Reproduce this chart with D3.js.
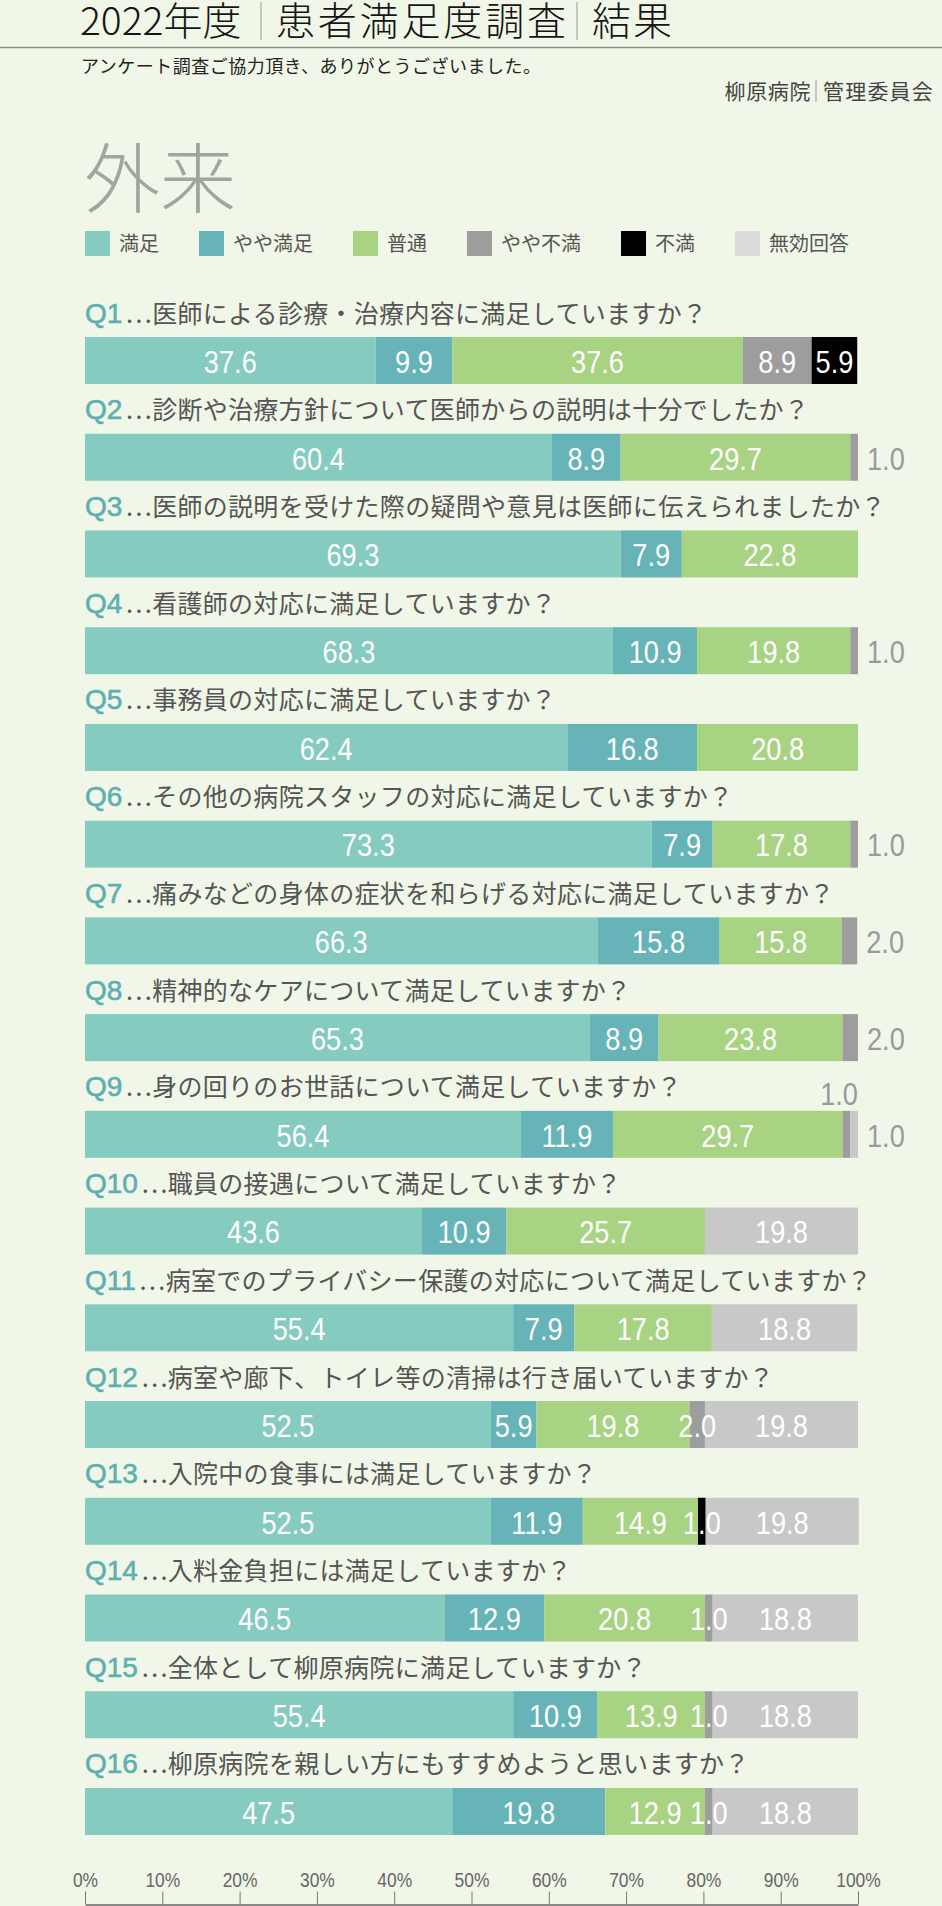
<!DOCTYPE html>
<html><head><meta charset="utf-8">
<script src="https://cdn.jsdelivr.net/npm/d3@7"></script>
<style>
html,body{margin:0;padding:0;background:#f1f7e8;}
svg{display:block;}
</style></head><body>
<svg id="chart" width="942" height="1906"></svg>
<script>
// ---------- data ----------
const categories = ["満足","やや満足","普通","やや不満","不満","無効回答"];
const questionIds = ["Q1","Q2","Q3","Q4","Q5","Q6","Q7","Q8","Q9","Q10","Q11","Q12","Q13","Q14","Q15","Q16"];
const questionTexts = [
  "医師による診療・治療内容に満足していますか？",
  "診断や治療方針について医師からの説明は十分でしたか？",
  "医師の説明を受けた際の疑問や意見は医師に伝えられましたか？",
  "看護師の対応に満足していますか？",
  "事務員の対応に満足していますか？",
  "その他の病院スタッフの対応に満足していますか？",
  "痛みなどの身体の症状を和らげる対応に満足していますか？",
  "精神的なケアについて満足していますか？",
  "身の回りのお世話について満足していますか？",
  "職員の接遇について満足していますか？",
  "病室でのプライバシー保護の対応について満足していますか？",
  "病室や廊下、トイレ等の清掃は行き届いていますか？",
  "入院中の食事には満足していますか？",
  "入料金負担には満足していますか？",
  "全体として柳原病院に満足していますか？",
  "柳原病院を親しい方にもすすめようと思いますか？"
];
const satisfied      = [37.6,60.4,69.3,68.3,62.4,73.3,66.3,65.3,56.4,43.6,55.4,52.5,52.5,46.5,55.4,47.5];
const ratherSatisfied= [9.9,8.9,7.9,10.9,16.8,7.9,15.8,8.9,11.9,10.9,7.9,5.9,11.9,12.9,10.9,19.8];
const neutral        = [37.6,29.7,22.8,19.8,20.8,17.8,15.8,23.8,29.7,25.7,17.8,19.8,14.9,20.8,13.9,12.9];
const ratherUnsat    = [8.9,1.0,0,1.0,0,1.0,2.0,2.0,1.0,0,0,2.0,0,1.0,1.0,1.0];
const unsatisfied    = [5.9,0,0,0,0,0,0,0,0,0,0,0,1.0,0,0,0];
const invalid        = [0,0,0,0,0,0,0,0,1.0,19.8,18.8,19.8,19.8,18.8,18.8,18.8];
const tickValues = [0,10,20,30,40,50,60,70,80,90,100];
const tickLabels = ["0%","10%","20%","30%","40%","50%","60%","70%","80%","90%","100%"];

// ---------- styles ----------
const seriesValues = [satisfied, ratherSatisfied, neutral, ratherUnsat, unsatisfied, invalid];
const colors = ["#86cbbf","#66b3b8","#a8d383","#9d9d9d","#000000","#c8c8c8"];
const legendColors = ["#86cbbf","#66b3b8","#a8d383","#9d9d9d","#000000","#dcdcdc"];
const CJK = "'Noto Sans CJK JP','Noto Sans CJK SC',sans-serif";
const LAT = "'Liberation Sans','DejaVu Sans',sans-serif";
const NUM_SCALE = 0.85;

const svg = d3.select("#chart");

// ---------- header ----------
svg.append("text").attr("x",80).attr("y",35).attr("font-family",CJK).attr("font-weight",300)
  .attr("font-size",39).attr("fill","#151515").text("2022年度");
svg.append("line").attr("x1",261).attr("x2",261).attr("y1",2).attr("y2",40).attr("stroke","#999").attr("stroke-width",1);
svg.append("text").attr("x",276).attr("y",35).attr("font-family",CJK).attr("font-weight",300)
  .attr("font-size",39).attr("fill","#151515").attr("textLength",290).text("患者満足度調査");
svg.append("line").attr("x1",577).attr("x2",577).attr("y1",2).attr("y2",40).attr("stroke","#999").attr("stroke-width",1);
svg.append("text").attr("x",592).attr("y",35).attr("font-family",CJK).attr("font-weight",300)
  .attr("font-size",39).attr("fill","#151515").attr("textLength",80).text("結果");
svg.append("line").attr("x1",0).attr("x2",942).attr("y1",47.5).attr("y2",47.5).attr("stroke","#8c9080").attr("stroke-width",1.5);
svg.append("text").attr("x",81).attr("y",73).attr("font-family",CJK).attr("font-size",18)
  .attr("letter-spacing",0.5).attr("fill","#222").text("アンケート調査ご協力頂き、ありがとうございました。");
svg.append("text").attr("x",934).attr("y",99).attr("text-anchor","end").attr("font-family",CJK)
  .attr("font-size",21).attr("letter-spacing",1.2).attr("fill","#444").text("管理委員会");
svg.append("line").attr("x1",816).attr("x2",816).attr("y1",80).attr("y2",102).attr("stroke","#999");
svg.append("text").attr("x",811).attr("y",99).attr("text-anchor","end").attr("font-family",CJK)
  .attr("font-size",21).attr("letter-spacing",0.6).attr("fill","#444").text("柳原病院");

svg.append("text").attr("x",84).attr("y",207).attr("font-family",CJK).attr("font-weight",300)
  .attr("font-size",76).attr("fill","#a2a4a0").text("外来");

// ---------- legend ----------
let lx = 85;
categories.forEach((c,i)=>{
  svg.append("rect").attr("x",lx).attr("y",231).attr("width",25).attr("height",25)
    .attr("fill",legendColors[i]);
  const t = svg.append("text").attr("x",lx+34).attr("y",251).attr("font-family",CJK)
    .attr("font-size",20).attr("fill","#555").text(c);
  lx += 34 + t.node().getComputedTextLength() + 40;
});

// ---------- bars ----------
const rows = questionIds.map((q,i)=>{
  const o = {q};
  categories.forEach((c,j)=>{ o[c] = seriesValues[j][i]; });
  return o;
});
const stacked = d3.stack().keys(categories)(rows);

const x = d3.scaleLinear().domain([0,100]).range([85,858]);
const band = d3.scaleBand().domain(questionIds).range([290, 290 + 16*96.73]).padding(0);
const BAR_OFF = 47, BAR_H = 47;

// question labels
questionIds.forEach((q,i)=>{
  const t = svg.append("text").attr("x",85).attr("y",band(q)+32.5);
  t.append("tspan").attr("font-family",LAT).attr("font-size",28).attr("fill","#5eb0b0")
    .attr("stroke","#5eb0b0").attr("stroke-width",0.6).text(q);
  t.append("tspan").attr("dx",3).attr("font-family",CJK).attr("font-size",25).attr("fill","#555")
    .attr("letter-spacing",0.3).text("…" + questionTexts[i]);
});

stacked.forEach((layer,j)=>{
  svg.append("g").selectAll("rect").data(layer.filter(d=>d[1]-d[0]>0)).join("rect")
    .attr("x",d=>x(d[0])).attr("width",d=>x(d[1])-x(d[0]))
    .attr("y",d=>band(d.data.q)+BAR_OFF).attr("height",BAR_H)
    .attr("fill",colors[j]);
});

// value labels (condensed numerals)
const labelG = svg.append("g").attr("font-family",LAT).attr("font-size",32);
function numLabel(px, py, anchor, fill, baseline, txt){
  labelG.append("g").attr("transform",`translate(${px},${py}) scale(${NUM_SCALE},1)`)
    .append("text").attr("text-anchor",anchor).attr("dominant-baseline",baseline)
    .attr("fill",fill).text(txt);
}
questionIds.forEach((q,i)=>{
  const segs = [];
  stacked.forEach((layer,j)=>{
    const d = layer[i];
    const v = seriesValues[j][i];
    if (v > 0) segs.push({v, x0:d[0], x1:d[1]});
  });
  const total = segs[segs.length-1].x1;
  const top = band(q)+BAR_OFF;
  segs.forEach((s,k)=>{
    const small = s.v <= 2.0;
    const isLast = k === segs.length-1;
    const next = segs[k+1];
    const txt = s.v.toFixed(1);
    if (small && isLast) {
      numLabel(x(total)+9, top+BAR_H/2+1, "start", "#9a9a9a", "central", txt);
    } else if (small && next && next.v <= 2.0) {
      numLabel(x(total), top-6, "end", "#9a9a9a", "alphabetic", txt);
    } else {
      numLabel((x(s.x0)+x(s.x1))/2, top+BAR_H/2+1, "middle", "#ffffff", "central", txt);
    }
  });
});

// ---------- axis ----------
const axis = d3.axisTop(x).tickValues(tickValues).tickFormat((d,i)=>tickLabels[i])
  .tickSize(13).tickSizeOuter(0).tickPadding(5);
const ag = svg.append("g").attr("transform","translate(0,1904.5)").call(axis);
ag.select(".domain").attr("stroke","#666").attr("stroke-width",1.5);
ag.selectAll(".tick line").attr("stroke","#777");
ag.selectAll(".tick text").attr("font-family",LAT).attr("font-size",20).attr("fill","#666")
  .attr("transform","scale(0.87,1)");
</script>
</body></html>
